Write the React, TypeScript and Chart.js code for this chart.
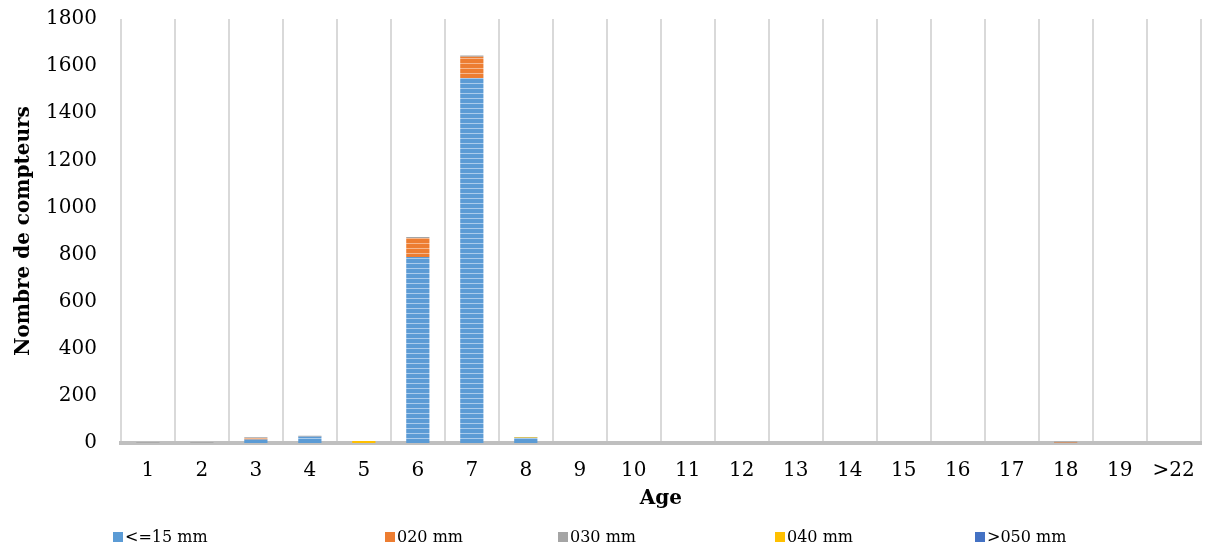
import React, { useEffect, useRef } from "react";
import { Chart, registerables } from "chart.js";

Chart.register(...registerables);

const ages = ["1", "2", "3", "4", "5", "6", "7", "8", "9", "10", "11", "12", "13", "14", "15", "16", "17", "18", "19", ">22"];
const seriesNames = ["<=15 mm", "020 mm", "030 mm", "040 mm", ">050 mm"];
const le15 = [0, 0, 15, 28, 0, 790, 1550, 22, 0, 0, 0, 0, 0, 0, 0, 0, 0, 0, 0, 0];
const mm020 = [0, 0, 6, 1, 0, 80, 90, 0, 0, 0, 0, 0, 0, 0, 0, 0, 0, 2, 0, 0];
const mm030 = [3, 3, 3, 2, 0, 4, 5, 0, 0, 0, 0, 0, 0, 0, 0, 0, 0, 4, 0, 0];
const mm040 = [0, 0, 0, 0, 8, 0, 0, 3, 0, 0, 0, 0, 0, 0, 0, 0, 0, 0, 0, 0];
const mm050 = [0, 0, 0, 0, 0, 0, 0, 0, 0, 0, 0, 0, 0, 0, 0, 0, 0, 0, 0, 0];
const yTicks = [0, 200, 400, 600, 800, 1000, 1200, 1400, 1600, 1800];

const baseColors = ["#5b9bd5", "#ed7d31", "#a5a5a5", "#ffc000", "#4472c4"];
const stripeColors = ["#a9cbec", "#f6b88e", "#cfcfcf", "#ffdf80", "#8faadc"];
const legendLeft = [113, 385, 558, 775, 975];
const FONT = "'DejaVu Serif', serif";

function makePattern(base: string, light: string): CanvasPattern | string {
  const c = document.createElement("canvas");
  c.width = 4;
  c.height = 5;
  const ctx = c.getContext("2d");
  if (!ctx) return base;
  ctx.fillStyle = base;
  ctx.fillRect(0, 0, 4, 5);
  ctx.fillStyle = light;
  ctx.fillRect(0, 3, 4, 1);
  const p = ctx.createPattern(c, "repeat");
  return p || base;
}

export default function App() {
  const ref = useRef<HTMLCanvasElement>(null);
  useEffect(() => {
    if (!ref.current) return;
    const values = [le15, mm020, mm030, mm040, mm050];
    const chart = new Chart(ref.current, {
      type: "bar",
      data: {
        labels: ages,
        datasets: seriesNames.map((name, i) => ({
          label: name,
          data: values[i],
          backgroundColor: makePattern(baseColors[i], stripeColors[i]),
          borderWidth: 0,
          barPercentage: 0.43,
          categoryPercentage: 1,
        })),
      },
      options: {
        animation: false,
        responsive: false,
        maintainAspectRatio: false,
        layout: { padding: { top: 0, right: 10, bottom: 37, left: 12 } },
        plugins: {
          legend: { display: false },
          tooltip: { enabled: false },
        },
        scales: {
          x: {
            stacked: true,
            grid: { display: true, color: "#d9d9d9", lineWidth: 2, drawTicks: false, offset: true },
            border: { display: true, color: "#bfbfbf", width: 4 },
            ticks: { color: "#000", font: { family: FONT, size: 20 }, padding: 16 },
            title: {
              display: true,
              text: "Age",
              color: "#000",
              font: { family: FONT, size: 20, weight: "bold" },
              padding: { top: -12, bottom: 0 },
            },
          },
          y: {
            stacked: true,
            min: 0,
            max: 1800,
            afterBuildTicks: (axis: any) => {
              axis.ticks = yTicks.map((v) => ({ value: v }));
            },
            afterFit: (axis: any) => {
              axis.paddingTop = 19;
            },
            grid: { display: false },
            border: { display: false },
            ticks: {
              color: "#000",
              font: { family: FONT, size: 20 },
              padding: 16,
              callback: (v: any) => String(v),
            },
            title: {
              display: true,
              text: "Nombre de compteurs",
              color: "#000",
              font: { family: FONT, size: 20, weight: "bold" },
              padding: { top: 0, bottom: -6 },
            },
          },
        },
      },
    });
    return () => chart.destroy();
  }, []);

  return (
    <div style={{ position: "fixed", left: 0, top: 0, width: 1211, height: 548, background: "#fff" }}>
      <canvas ref={ref} width={1211} height={548} style={{ width: 1211, height: 548, display: "block" }} />
      {seriesNames.map((name, i) => (
        <div
          key={name}
          style={{
            position: "absolute",
            left: legendLeft[i],
            top: 527,
            display: "flex",
            alignItems: "center",
            fontFamily: FONT,
            fontSize: 16,
            color: "#000",
            whiteSpace: "nowrap",
          }}
        >
          <span style={{ display: "inline-block", width: 10, height: 10, background: baseColors[i], marginRight: 2 }} />
          <span>{name}</span>
        </div>
      ))}
    </div>
  );
}
